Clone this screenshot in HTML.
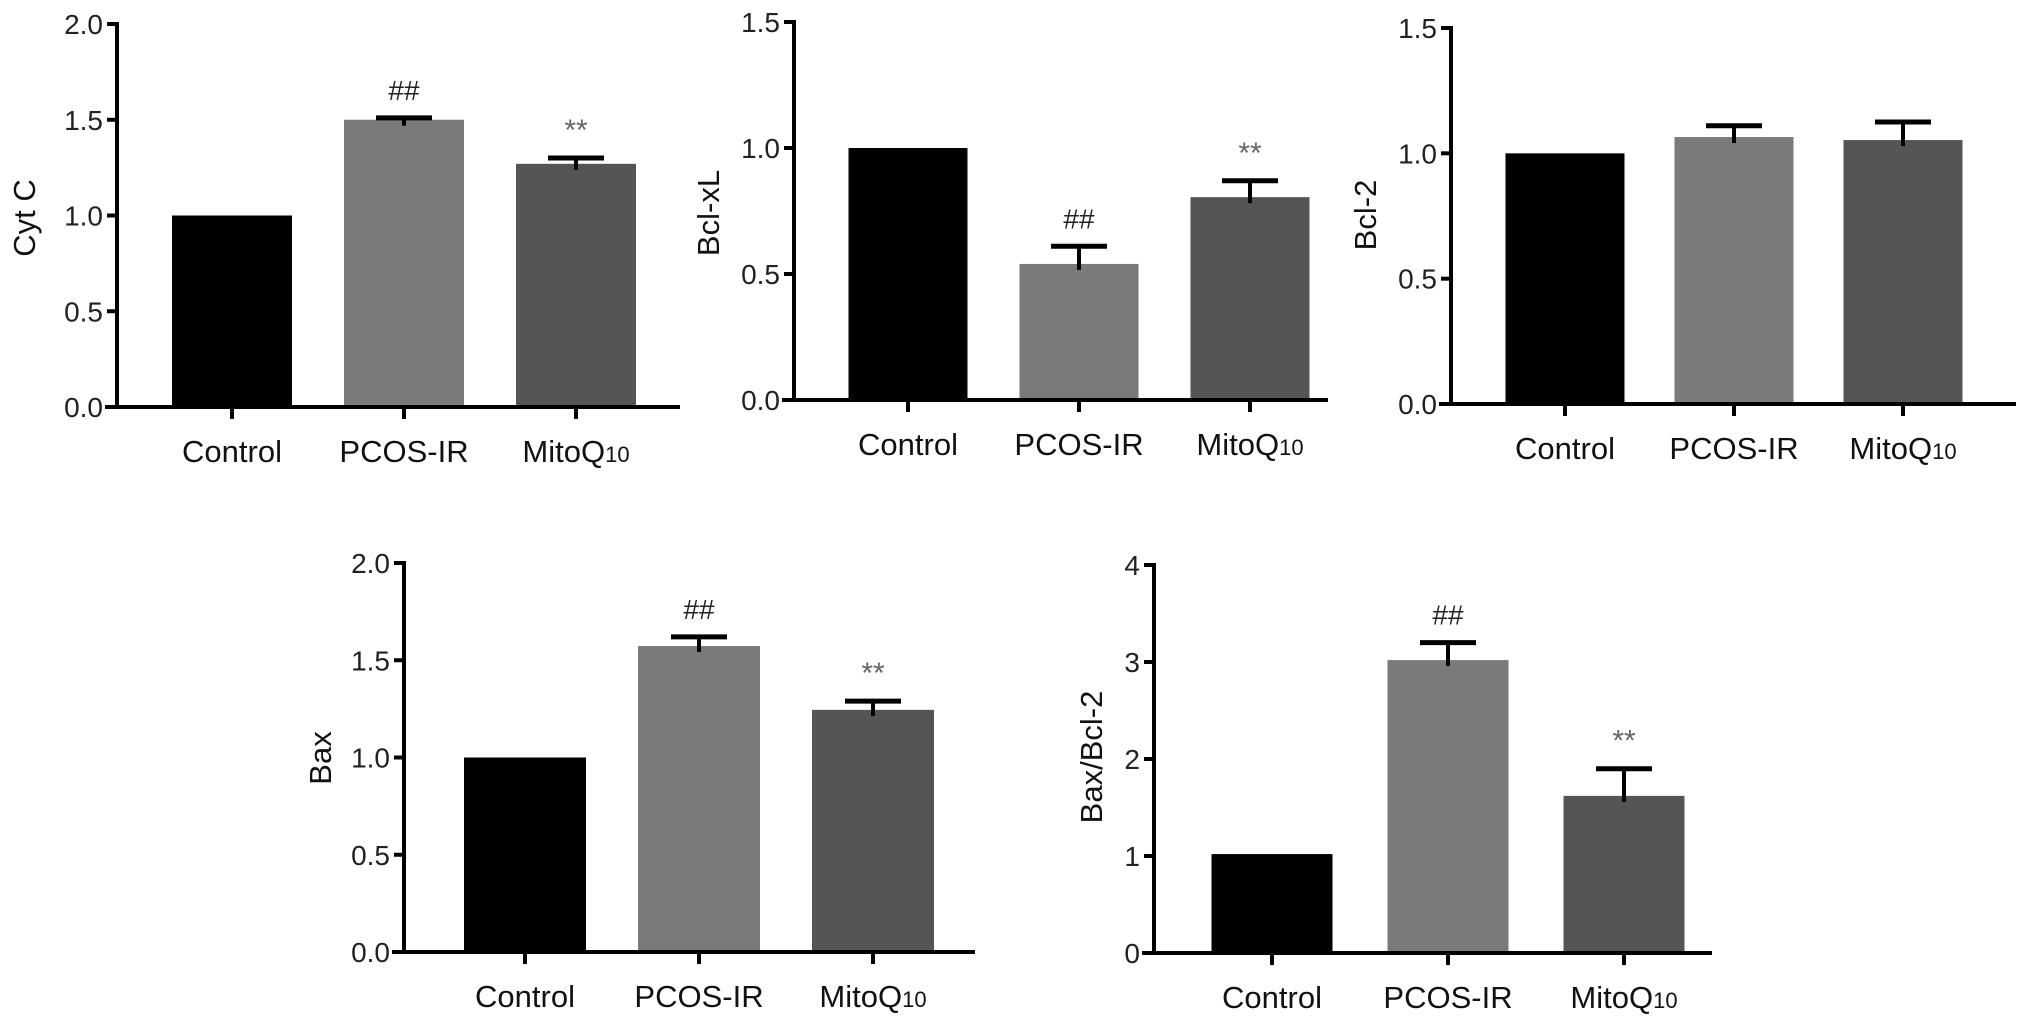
<!DOCTYPE html>
<html><head><meta charset="utf-8">
<style>
html,body{margin:0;padding:0;background:#fff;}
svg{display:block;font-family:"Liberation Sans",Arial,sans-serif;}
</style></head>
<body>
<svg id="fig" width="2032" height="1018" viewBox="0 0 2032 1018" xmlns="http://www.w3.org/2000/svg"></svg>
<script>
// ---- data ----
const categories = ["Control","PCOS-IR","MitoQ10"];
const cytcValues = [1.0, 1.50, 1.27];
const cytcErrors = [0, 0.01, 0.03];
const cytcTicks = ["0.0","0.5","1.0","1.5","2.0"];
const bclxlValues = [1.0, 0.54, 0.805];
const bclxlErrors = [0, 0.07, 0.065];
const bclxlTicks = ["0.0","0.5","1.0","1.5"];
const bcl2Values = [1.0, 1.065, 1.053];
const bcl2Errors = [0, 0.045, 0.072];
const bcl2Ticks = ["0.0","0.5","1.0","1.5"];
const baxValues = [1.0, 1.573, 1.245];
const baxErrors = [0, 0.047, 0.045];
const baxTicks = ["0.0","0.5","1.0","1.5","2.0"];
const ratioValues = [1.02, 3.02, 1.62];
const ratioErrors = [0, 0.18, 0.28];
const ratioTicks = ["0","1","2","3","4"];
const cytcMarks = ["", "##", "**"];
const bclxlMarks = ["", "##", "**"];
const bcl2Marks = ["", "", ""];
const baxMarks = ["", "##", "**"];
const ratioMarks = ["", "##", "**"];

const colors = ["#000000","#7a7a7a","#555555"];
const NS = "http://www.w3.org/2000/svg";
const svg = document.getElementById("fig");

function mk(tag, attrs, parent){
  const e = document.createElementNS(NS, tag);
  for (const k in attrs) e.setAttribute(k, attrs[k]);
  (parent||svg).appendChild(e);
  return e;
}

function drawChart(cfg){
  const g = mk("g", {});
  
  
  const yMax = cfg.yMax;
  const y = v => cfg.y0 - (v / yMax) * (cfg.y0 - cfg.yTop);
  const barW = cfg.barW;
  const cx = i => cfg.firstCenter + i * cfg.step;

  cfg.values.forEach((v, i) => {
    const r = mk("rect", {x: cx(i) - barW/2, y: y(v), width: barW, height: cfg.y0 - y(v), fill: colors[i]}, g);
    
    
    const e = cfg.errors[i];
    if (e > 0) {
      const top = y(v + e);
      const eb = mk("g", {stroke: "#000", "stroke-width": 4}, g);
      
      
      mk("line", {x1: cx(i), x2: cx(i), y1: y(v) + 6, y2: top}, eb);
      mk("line", {x1: cx(i) - 28, x2: cx(i) + 28, y1: top, y2: top, "stroke-width": 5}, eb);
    }
    const m = cfg.marks[i];
    if (m) {
      const topV = v + e;
      const t = mk("text", {x: cx(i), y: y(topV) - 18, "text-anchor": "middle", "font-size": m === "##" ? 28 : 30,
        fill: m === "##" ? "#222" : "#666"}, g);
      t.textContent = m;
      
      
    }
  });

  const ya = mk("line", {x1: cfg.ax, x2: cfg.ax, y1: cfg.yTop - 2, y2: cfg.y0 + 2, stroke: "#000", "stroke-width": 4}, g);
  
  
  const xa = mk("line", {x1: cfg.ax - 12, x2: cfg.xEnd, y1: cfg.y0, y2: cfg.y0, stroke: "#000", "stroke-width": 4}, g);
  
  

  cfg.ticks.forEach((lab, i) => {
    const v = i * yMax / (cfg.ticks.length - 1);
    const yy = y(v);
    mk("line", {x1: cfg.ax - 10, x2: cfg.ax, y1: yy, y2: yy, stroke: "#000", "stroke-width": 4}, g);
    const t = mk("text", {x: cfg.ax - 14, y: yy + 10, "text-anchor": "end", "font-size": 28, fill: "#222"}, g);
    t.textContent = lab;
    
    
  });

  categories.forEach((c, i) => {
    mk("line", {x1: cx(i), x2: cx(i), y1: cfg.y0, y2: cfg.y0 + 12, stroke: "#000", "stroke-width": 4}, g);
    const t = mk("text", {x: cx(i), y: cfg.y0 + 55, "text-anchor": "middle", "font-size": 31, fill: "#111"}, g);
    if (c === "MitoQ10") {
      t.textContent = "MitoQ";
      const s = mk("tspan", {"font-size": 22}, t);
      s.textContent = "10";
    } else {
      t.textContent = c;
    }
    
    
  });

  const yt = mk("text", {x: 0, y: 0, "text-anchor": "middle", "font-size": 31, fill: "#111",
    transform: "translate(" + cfg.titleX + "," + cfg.titleY + ") rotate(-90)"}, g);
  yt.textContent = cfg.title;
  
  
}

drawChart({name:"cytc", title:"Cyt C", values:cytcValues, errors:cytcErrors, ticks:cytcTicks, marks:cytcMarks,
  yMax:2.0, ax:117, yTop:24, y0:407, xEnd:680, firstCenter:232, step:172, barW:120, titleX:35, titleY:218});
drawChart({name:"bclxl", title:"Bcl-xL", values:bclxlValues, errors:bclxlErrors, ticks:bclxlTicks, marks:bclxlMarks,
  yMax:1.5, ax:794, yTop:22, y0:400, xEnd:1328, firstCenter:908, step:171, barW:119, titleX:719, titleY:213});
drawChart({name:"bcl2", title:"Bcl-2", values:bcl2Values, errors:bcl2Errors, ticks:bcl2Ticks, marks:bcl2Marks,
  yMax:1.5, ax:1451, yTop:28, y0:404, xEnd:2016, firstCenter:1565, step:169, barW:119, titleX:1376, titleY:215});
drawChart({name:"bax", title:"Bax", values:baxValues, errors:baxErrors, ticks:baxTicks, marks:baxMarks,
  yMax:2.0, ax:404, yTop:563, y0:952, xEnd:975, firstCenter:525, step:174, barW:122, titleX:331, titleY:758});
drawChart({name:"bax-bcl2", title:"Bax/Bcl-2", values:ratioValues, errors:ratioErrors, ticks:ratioTicks, marks:ratioMarks,
  yMax:4, ax:1154, yTop:565, y0:953, xEnd:1712, firstCenter:1272, step:176, barW:121, titleX:1102, titleY:757});
</script>
</body></html>
